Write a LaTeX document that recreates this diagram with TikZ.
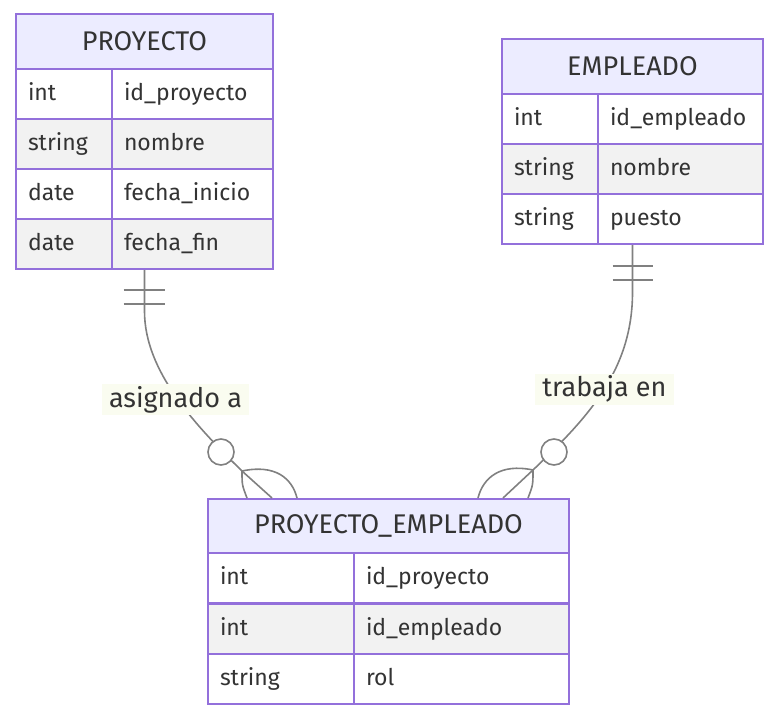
\documentclass[tikz,border=0pt]{standalone}
\usepackage{fontspec}
\setmainfont{Fira Sans}
\usetikzlibrary{positioning,fit}
\definecolor{hdrcolor}{RGB}{236,236,255}
\definecolor{edgecolor}{RGB}{147,112,219}
\definecolor{altcolor}{RGB}{242,242,242}
\definecolor{linkcolor}{RGB}{128,128,128}
\definecolor{lblcolor}{RGB}{250,252,240}
\definecolor{txtcolor}{RGB}{51,51,51}

\begin{document}
\begin{tikzpicture}[
    x=1pt, y=-1pt,
    every node/.style={font=\fontsize{23}{27}\selectfont, text=txtcolor},
    hdr/.style={rectangle, fill=hdrcolor, draw=edgecolor, line width=2pt, anchor=north west, minimum height=55pt, inner sep=0pt, font=\fontsize{27}{32}\selectfont},
    cell/.style={rectangle, fill=white, draw=edgecolor, line width=2pt, anchor=north west, minimum height=50pt, inner xsep=12pt, inner ysep=0pt, text height=17pt, text depth=4pt, align=left},
    alt/.style={cell, fill=altcolor},
    lbl/.style={rectangle, fill=lblcolor, inner xsep=7pt, inner ysep=0pt, minimum height=31pt, font=\fontsize{27}{32}\selectfont},
    link/.style={draw=linkcolor, line width=1.6pt},
    zero/.style={circle, draw=linkcolor, line width=1.6pt, fill=white, minimum size=26pt, inner sep=0pt}
]

% PROYECTO
\node[hdr, minimum width=257pt] (ph) at (15,13) {PROYECTO};
\node[cell, text width=72pt] (p1a) at (15,68) {int};
\node[cell, text width=137pt] (p1b) at (111,68) {id\_proyecto};
\node[alt, text width=72pt] (p2a) at (15,118) {string};
\node[alt, text width=137pt] (p2b) at (111,118) {nombre};
\node[cell, text width=72pt] (p3a) at (15,168) {date};
\node[cell, text width=137pt] (p3b) at (111,168) {fecha\_inicio};
\node[alt, text width=72pt] (p4a) at (15,218) {date};
\node[alt, text width=137pt] (p4b) at (111,218) {fecha\_fin};
\node[fit=(ph)(p4a)(p4b), inner sep=0pt] (proy) {};

% EMPLEADO
\node[hdr, minimum width=261pt] (eh) at (501,38) {EMPLEADO};
\node[cell, text width=72pt] (e1a) at (501,93) {int};
\node[cell, text width=141pt] (e1b) at (597,93) {id\_empleado};
\node[alt, text width=72pt] (e2a) at (501,143) {string};
\node[alt, text width=141pt] (e2b) at (597,143) {nombre};
\node[cell, text width=72pt] (e3a) at (501,193) {string};
\node[cell, text width=141pt] (e3b) at (597,193) {puesto};
\node[fit=(eh)(e3a)(e3b), inner sep=0pt] (emp) {};

% PROYECTO_EMPLEADO
\node[hdr, minimum width=361pt, minimum height=54pt] (rh) at (207,498) {PROYECTO\_EMPLEADO};
\node[cell, text width=122pt] (r1a) at (207,552) {int};
\node[cell, text width=191pt] (r1b) at (353,552) {id\_proyecto};
\node[alt, text width=122pt] (r2a) at (207,603) {int};
\node[alt, text width=191pt] (r2b) at (353,603) {id\_empleado};
\node[cell, text width=122pt] (r3a) at (207,653) {string};
\node[cell, text width=191pt] (r3b) at (353,653) {rol};

% crow's foot points
\coordinate (lo) at (242,471);
\coordinate (ro) at (533,470);
\coordinate (lf1) at (247,498);
\coordinate (lf2) at (272,498);
\coordinate (lf3) at (297,498);
\coordinate (rf1) at (478,498);
\coordinate (rf2) at (503,498);
\coordinate (rf3) at (528,498);

% relationship lines
\draw[link] (proy.south) -- ++(0,41) .. controls ++(0,60) and (195,425) .. (lo);
\draw[link] (emp.south) -- ++(0,47) .. controls ++(0,80) and (585,420) .. (ro);

% exactly-one bars
\draw[link] (proy.south) ++(-21,20) -- ++(41,0);
\draw[link] (proy.south) ++(-21,34) -- ++(41,0);
\draw[link] (emp.south) ++(-20,21) -- ++(40,0);
\draw[link] (emp.south) ++(-20,35) -- ++(40,0);

% zero-or-many
\draw[link] (lo) .. controls (242,485) .. (lf1);
\draw[link] (lo) -- (lf2);
\draw[link] (lo) .. controls (275,464) and (292,478) .. (lf3);
\draw[link] (ro) .. controls (533,485) .. (rf3);
\draw[link] (ro) -- (rf2);
\draw[link] (ro) .. controls (500,463) and (483,478) .. (rf1);
\node[zero] (lz) at (221,452) {};
\node[zero] (rz) at (554,452) {};

% labels
\node[lbl] (la) at (175.5,399.5) {asignado a};
\node[lbl] (lb) at (604.5,389) {trabaja en};

\useasboundingbox (0,0) rectangle (778,723);
\end{tikzpicture}
\end{document}
